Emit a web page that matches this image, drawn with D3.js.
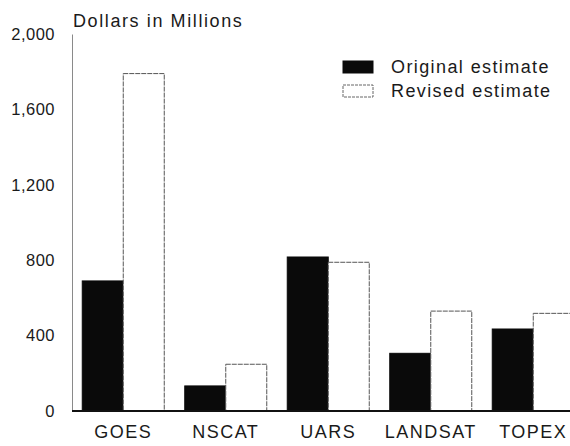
<!DOCTYPE html>
<html>
<head>
<meta charset="utf-8">
<script src="https://cdn.jsdelivr.net/npm/d3@7"></script>
<style>
  html, body { margin: 0; padding: 0; background: #fff; }
  svg { display: block; font-family: "Liberation Sans", Arial, Helvetica, sans-serif; }
</style>
</head>
<body>
<svg id="chart" width="570" height="446"></svg>
<script>
const categories = ["GOES", "NSCAT", "UARS", "LANDSAT", "TOPEX"];
const originalEstimate = [690, 133, 817, 306, 435];
const revisedEstimate = [1790, 248, 789, 530, 518];
const seriesNames = ["Original estimate", "Revised estimate"];
const yTicks = [0, 400, 800, 1200, 1600, 2000];
const axisTitle = "Dollars in Millions";

const svg = d3.select("#chart");

const axisX = 72;
const x = d3.scaleBand()
  .domain(categories)
  .range([axisX, 584.5])
  .paddingInner(0.2)
  .paddingOuter(0.1);
const xSub = d3.scaleBand()
  .domain(seriesNames)
  .range([0, x.bandwidth()]);
const y = d3.scaleLinear().domain([0, 2000]).range([411, 34]);

const rows = categories.map((c, i) => ({
  cat: c,
  vals: [
    { s: seriesNames[0], v: originalEstimate[i] },
    { s: seriesNames[1], v: revisedEstimate[i] }
  ]
}));

// bars
const g = svg.append("g");
const groups = g.selectAll("g.grp").data(rows).join("g")
  .attr("class", "grp")
  .attr("transform", d => `translate(${x(d.cat)},0)`);

groups.selectAll("rect").data(d => d.vals).join("rect")
  .attr("x", d => xSub(d.s))
  .attr("y", d => y(d.v))
  .attr("width", xSub.bandwidth())
  .attr("height", d => y(0) - y(d.v))
  .attr("fill", d => d.s === seriesNames[0] ? "#0a0a0a" : "#ffffff")
  .attr("stroke", d => d.s === seriesNames[0] ? "#0a0a0a" : "#555")
  .attr("stroke-width", 1)
  .attr("stroke-dasharray", d => d.s === seriesNames[0] ? null : "5,1");

// y axis
const yAxis = d3.axisLeft(y)
  .tickValues(yTicks)
  .tickSize(0)
  .tickPadding(17)
  .tickFormat(d3.format(","));
const yg = svg.append("g")
  .attr("transform", `translate(${axisX},0)`)
  .call(yAxis);
yg.select(".domain").attr("stroke", "#8a8a8a").attr("stroke-width", 1);
yg.selectAll("text")
  .attr("font-size", 16.5)
  .attr("letter-spacing", 0.5)
  .attr("fill", "#1a1a1a")
  .attr("font-family", "'Liberation Sans', Arial, sans-serif");

// baseline
svg.append("line")
  .attr("x1", axisX).attr("x2", 570)
  .attr("y1", y(0)).attr("y2", y(0))
  .attr("stroke", "#111").attr("stroke-width", 2);

// x labels
const xAxis = d3.axisBottom(x).tickSize(0).tickPadding(14);
const xg = svg.append("g")
  .attr("transform", `translate(0,${y(0)})`)
  .call(xAxis);
xg.select(".domain").remove();
xg.selectAll("text")
  .attr("font-size", 18)
  .attr("letter-spacing", 1.5)
  .attr("fill", "#1a1a1a")
  .attr("font-family", "'Liberation Sans', Arial, sans-serif");

// axis title
svg.append("text")
  .attr("x", 73).attr("y", 27)
  .attr("font-size", 18)
  .attr("letter-spacing", 1.6)
  .attr("fill", "#1a1a1a")
  .text(axisTitle);

// legend
const legend = svg.append("g").attr("transform", "translate(343,61)");
const li = legend.selectAll("g").data(seriesNames).join("g")
  .attr("transform", (d, i) => `translate(0,${i * 24})`);
li.append("rect")
  .attr("width", 30).attr("height", 12)
  .attr("fill", (d, i) => i === 0 ? "#0a0a0a" : "#fff")
  .attr("stroke", (d, i) => i === 0 ? "#0a0a0a" : "#666")
  .attr("stroke-dasharray", (d, i) => i === 0 ? null : "3,1");
li.append("text")
  .attr("x", 48).attr("y", 11.5)
  .attr("font-size", 18)
  .attr("letter-spacing", 1.4)
  .attr("fill", "#1a1a1a")
  .text(d => d);
</script>
</body>
</html>
